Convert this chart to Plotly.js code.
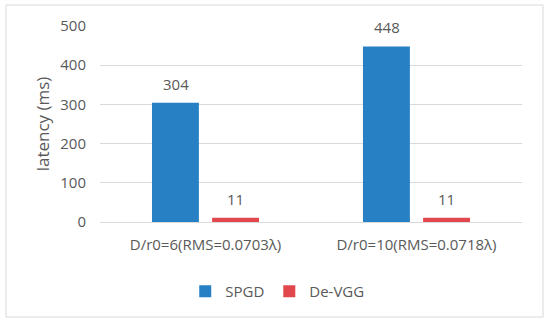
<!DOCTYPE html>
<html>
<head>
<meta charset="utf-8">
<script src="https://cdn.plot.ly/plotly-3.0.1.min.js"></script>
<style>html,body{margin:0;padding:0;background:#fff;}#chart{width:550px;height:323px;}</style>
</head>
<body>
<div id="chart"></div>
<script>
const categories = ["D/r0=6(RMS=0.0703λ)", "D/r0=10(RMS=0.0718λ)"];
const spgd = [304, 448];
const devgg = [11, 11];
const seriesNames = ["SPGD", "De-VGG"];
const yTicks = [0, 100, 200, 300, 400, 500];

const font = "'Open Sans', 'Noto Sans', sans-serif";
const gray = "#595959";
const colors = ["#2680C3", "#E2474D"];

const traces = [spgd, devgg].map((vals, i) => ({
  type: "bar",
  name: seriesNames[i],
  x: categories,
  y: vals,
  marker: { color: colors[i] },
  hoverinfo: "none"
}));

const shifts = [-30, 30];
const annotations = [];
[spgd, devgg].forEach((vals, i) => {
  vals.forEach((v, j) => {
    annotations.push({
      x: categories[j], y: v, xref: "x", yref: "y",
      text: String(v), showarrow: false,
      xshift: shifts[i], yshift: 7, yanchor: "bottom",
      font: { family: font, size: 15, color: gray }
    });
  });
});

const layout = {
  width: 550, height: 323,
  margin: { l: 100, r: 28, t: 26, b: 101 },
  paper_bgcolor: "#fff", plot_bgcolor: "#fff",
  barmode: "group", bargap: 0.43, bargroupgap: 0.22,
  font: { family: font, color: gray, size: 15 },
  xaxis: {
    type: "category",
    tickfont: { family: font, size: 15, color: gray },
    showgrid: false, showline: false, ticks: "", zeroline: false,
    ticklabelstandoff: 12
  },
  yaxis: {
    range: [0, 500],
    tickvals: yTicks,
    ticktext: yTicks.map(String),
    tickfont: { family: font, size: 15, color: gray },
    gridcolor: "#d9d9d9", gridwidth: 1,
    zeroline: true, zerolinecolor: "#d9d9d9", zerolinewidth: 1,
    showline: false, ticks: "",
    ticklabelstandoff: 13,
    title: { text: "latency (ms)", font: { family: font, size: 17, color: gray }, standoff: 6 }
  },
  showlegend: true,
  legend: {
    orientation: "h", x: 0.42, xanchor: "center", y: -0.27, yanchor: "top",
    font: { family: font, size: 15, color: gray },
    itemwidth: 30
  },
  annotations: annotations,
  shapes: [{
    type: "rect", xref: "paper", yref: "paper",
    x0: (6 - 100) / 422, x1: (543 - 100) / 422,
    y0: (222 - 317) / 196, y1: (222 - 5) / 196,
    line: { color: "#d9d9d9", width: 1 }, fillcolor: "rgba(0,0,0,0)", layer: "below"
  }]
};

Plotly.newPlot("chart", traces, layout, { staticPlot: true, displayModeBar: false });
</script>
</body>
</html>
